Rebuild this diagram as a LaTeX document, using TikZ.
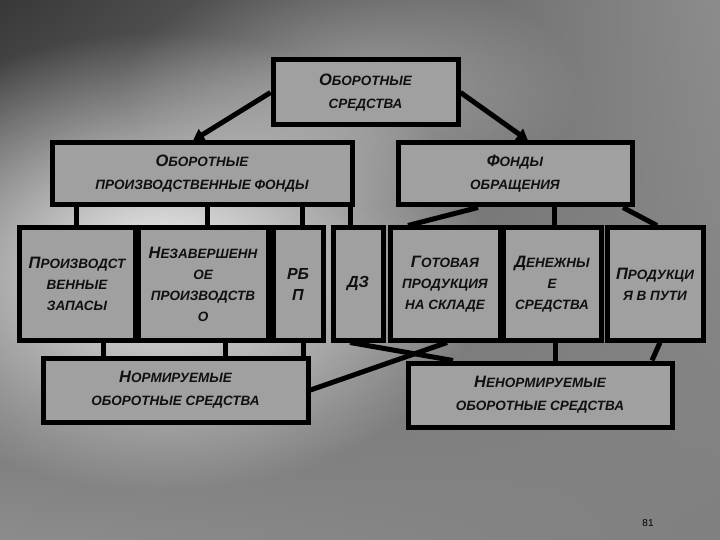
\documentclass[tikz,border=0pt]{standalone}
\usepackage{fontspec}
\setmainfont{Liberation Sans}
\usetikzlibrary{arrows.meta,fadings,shadings}
\tikzfading[name=glowfade, inner color=transparent!0, outer color=transparent!100]
\definecolor{boxgray}{HTML}{A0A0A0}
\definecolor{txt}{HTML}{101010}
\newcommand\Cap[1]{{\fontsize{16.5}{21}\selectfont #1}}
\begin{document}
\begin{tikzpicture}[x=1pt,y=-1pt,
  box/.style={draw=black, line width=5pt, fill=boxgray, inner sep=0pt, align=center,
    text=txt, font=\bfseries\itshape\fontsize{13.5}{21}\selectfont},
  wide/.style={font=\bfseries\itshape\fontsize{13.5}{23}\selectfont},
  link/.style={draw=black, line width=5pt},
  arr/.style={link, -{Triangle[length=11pt,width=13pt]}}]
\useasboundingbox (0,0) rectangle (720,540);
% background
\begin{scope}
\clip (0,0) rectangle (720,540);
\shade[upper left={black!78}, upper right={black!45}, lower left={black!45}, lower right={black!50}]
  (0,0) rectangle (720,540);
\fill[white, opacity=0.9, path fading=glowfade] (160,262) ellipse [x radius=330pt, y radius=230pt];
\fill[white, opacity=0.35, path fading=glowfade] (350,90) ellipse [x radius=230pt, y radius=120pt];
\end{scope}
% nodes
\node[box, wide, minimum width=185pt, minimum height=65pt] (top) at (365.5,92.5) {\Cap{О}БОРОТНЫЕ\\СРЕДСТВА};
\node[box, wide, minimum width=300pt, minimum height=62pt] (opf) at (202,174) {\Cap{О}БОРОТНЫЕ\\ПРОИЗВОДСТВЕННЫЕ ФОНДЫ};
\node[box, wide, minimum width=234pt, minimum height=62pt] (fo) at (515,174) {\Cap{Ф}ОНДЫ\\ОБРАЩЕНИЯ};
\node[box, minimum width=116pt, minimum height=112pt] (pz) at (77,284) {\Cap{П}РОИЗВОДСТ\\ВЕННЫЕ\\ЗАПАСЫ};
\node[box, minimum width=130pt, minimum height=112pt] (nzp) at (203,284) {\Cap{Н}ЕЗАВЕРШЕНН\\ОЕ\\ПРОИЗВОДСТВ\\О};
\node[box, minimum width=50pt, minimum height=112pt, font=\bfseries\itshape\fontsize{16}{21}\selectfont] (rbp) at (298,284) {РБ\\П};
\node[box, minimum width=50pt, minimum height=112pt, font=\bfseries\itshape\fontsize{16}{21}\selectfont] (dz) at (358,284) {ДЗ};
\node[box, minimum width=110pt, minimum height=112pt] (gp) at (445,284) {\Cap{Г}ОТОВАЯ\\ПРОДУКЦИЯ\\НА СКЛАДЕ};
\node[box, minimum width=98pt, minimum height=112pt] (ds) at (552,284) {\Cap{Д}ЕНЕЖНЫ\\Е\\СРЕДСТВА};
\node[box, minimum width=96pt, minimum height=112pt] (pvp) at (655,284) {\Cap{П}РОДУКЦИ\\Я В ПУТИ};
\node[box, wide, minimum width=265pt, minimum height=64pt] (norm) at (175.5,390) {\Cap{Н}ОРМИРУЕМЫЕ\\ОБОРОТНЫЕ СРЕДСТВА};
\node[box, wide, minimum width=264pt, minimum height=64pt] (nenorm) at (540,395) {\Cap{Н}ЕНОРМИРУЕМЫЕ\\ОБОРОТНЫЕ СРЕДСТВА};
\node[font=\fontsize{10}{10}\selectfont, text=black] (pg) at (648,523) {81};
% connectors
\draw[arr] (top.west) -- (opf.north -| 193,0);
\draw[arr] (top.east) -- (fo.north -| 528,0);
\draw[link] (opf.south -| 76,0) -- (pz.north -| 76,0);
\draw[link] (opf.south -| 207,0) -- (nzp.north -| 207,0);
\draw[link] (opf.south -| 302,0) -- (rbp.north -| 302,0);
\draw[link] (opf.south -| 350,0) -- (dz.north -| 350,0);
\draw[link] (fo.south -| 478,0) -- (gp.north -| 408,0);
\draw[link] (fo.south -| 554,0) -- (ds.north -| 554,0);
\draw[link] (fo.south -| 623,0) -- (pvp.north -| 657,0);
\draw[link] (pz.south -| 103,0) -- (norm.north -| 103,0);
\draw[link] (nzp.south -| 225,0) -- (norm.north -| 225,0);
\draw[link] (rbp.south -| 303,0) -- (norm.north -| 303,0);
\draw[link] (dz.south -| 350,0) -- (nenorm.north -| 453,0);
\draw[link] (gp.south -| 447,0) -- (norm.east |- 0,390);
\draw[link] (ds.south -| 555,0) -- (nenorm.north -| 555,0);
\draw[link] (pvp.south -| 660,0) -- (nenorm.north -| 652,0);
\end{tikzpicture}
\end{document}
